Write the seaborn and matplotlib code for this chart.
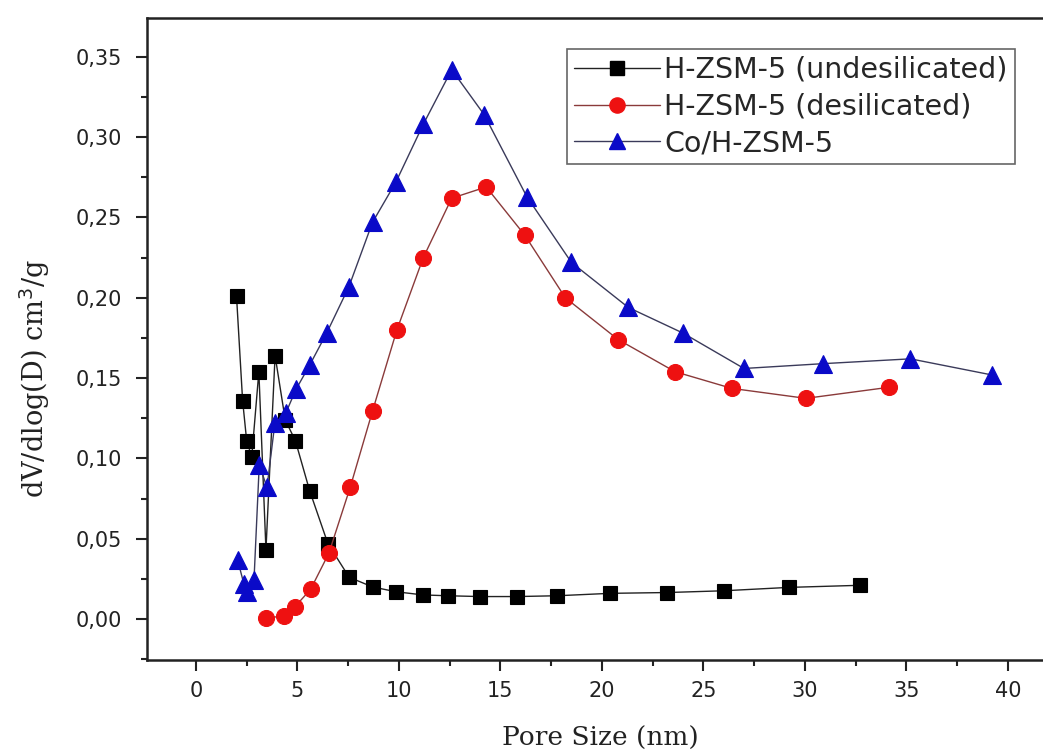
import matplotlib
matplotlib.use("Agg")
import matplotlib.pyplot as plt
from matplotlib.ticker import MultipleLocator, FuncFormatter
from matplotlib.lines import Line2D
import seaborn as sns
import pandas as pd

# Pore size distribution (BJH) for the three samples
undesil_x = [2.0, 2.3, 2.5, 2.75, 3.1, 3.45, 3.9, 4.4, 4.9, 5.6, 6.5, 7.55,
             8.7, 9.85, 11.2, 12.4, 14.0, 15.8, 17.8, 20.4, 23.2, 26.0, 29.2, 32.7]
undesil_y = [0.201, 0.136, 0.111, 0.101, 0.154, 0.043, 0.164, 0.124, 0.111, 0.080, 0.047, 0.026,
             0.020, 0.017, 0.015, 0.0145, 0.014, 0.014, 0.0145, 0.016, 0.0165, 0.0176, 0.0197, 0.021]

desil_x = [3.45, 4.33, 4.88, 5.65, 6.55, 7.6, 8.7, 9.9, 11.2, 12.6, 14.3,
           16.2, 18.2, 20.8, 23.6, 26.4, 30.05, 34.15]
desil_y = [0.0005, 0.002, 0.0077, 0.0185, 0.041, 0.082, 0.1295, 0.180, 0.225, 0.262, 0.269,
           0.239, 0.200, 0.174, 0.154, 0.1436, 0.1374, 0.1443]

co_x = [2.05, 2.36, 2.5, 2.86, 3.12, 3.5, 3.89, 4.42, 4.93, 5.6, 6.44, 7.54,
        8.7, 9.85, 11.2, 12.6, 14.2, 16.3, 18.5, 21.3, 24.0, 27.0, 30.9, 35.2, 39.2]
co_y = [0.037, 0.022, 0.017, 0.024, 0.096, 0.082, 0.122, 0.128, 0.143, 0.158, 0.178, 0.207,
        0.247, 0.272, 0.308, 0.342, 0.314, 0.263, 0.222, 0.194, 0.178, 0.156, 0.159, 0.162, 0.152]

labels = ["H-ZSM-5 (undesilicated)", "H-ZSM-5 (desilicated)", "Co/H-ZSM-5"]

sns.set_theme(style="ticks")
plt.rcParams["font.family"] = ["DejaVu Sans"]

fig = plt.figure(figsize=(10.43, 7.52), dpi=100)
ax = fig.add_axes([147 / 1043, 92 / 752, 896 / 1043, 642 / 752])

series = [
    (undesil_x, undesil_y, "s", "black", "black", "#222222", 10.5),
    (desil_x, desil_y, "o", "#ee1111", "#ee1111", "#8a3a3a", 11.5),
    (co_x, co_y, "^", "#0a0ac8", "#0a0ac8", "#3a3a5a", 12.5),
]
handles = []
for (xs, ys, mk, fc, ec, lc, ms), lab in zip(series, labels):
    df = pd.DataFrame({"x": xs, "y": ys})
    sns.lineplot(data=df, x="x", y="y", sort=False, ax=ax, color=lc, linewidth=1.0,
                 marker=mk, markersize=ms, markerfacecolor=fc, markeredgecolor=ec,
                 markeredgewidth=0.8, estimator=None)
    handles.append(Line2D([0], [0], color=lc, linewidth=1.0, marker=mk,
                          markersize=ms * 0.95, markerfacecolor=fc, markeredgecolor=ec))

ax.set_xlim(-2.41, 41.73)
ax.set_ylim(-0.0255, 0.3742)

ax.xaxis.set_major_locator(MultipleLocator(5))
ax.xaxis.set_minor_locator(MultipleLocator(2.5))
ax.yaxis.set_major_locator(MultipleLocator(0.05))
ax.yaxis.set_minor_locator(MultipleLocator(0.025))
ax.yaxis.set_major_formatter(FuncFormatter(lambda v, p: f"{v:.2f}".replace(".", ",")))
ax.xaxis.set_major_formatter(FuncFormatter(lambda v, p: f"{v:.0f}"))

ax.tick_params(axis="both", which="major", direction="out", length=8, width=1.5,
               labelsize=15, color="#222222", labelcolor="#222222", pad=7)
ax.tick_params(axis="y", which="major", pad=10)
ax.tick_params(axis="both", which="minor", direction="out", length=4.3, width=1.5,
               color="#222222")

for side in ["left", "bottom", "top"]:
    ax.spines[side].set_linewidth(1.8)
    ax.spines[side].set_color("#222222")
ax.spines["right"].set_visible(False)

serif = ["DejaVu Serif"]
ax.set_xlabel("Pore Size (nm)", fontsize=19, family=serif, color="#222222")
ax.set_ylabel("dV/dlog(D) cm$^3$/g", fontsize=19.5, family=serif, color="#222222")
ax.xaxis.set_label_coords(0.506, -0.103)
ax.yaxis.set_label_coords(-0.106, 0.438)

leg = ax.legend(handles, labels, loc="upper left", bbox_to_anchor=(0.469, 0.952),
                borderaxespad=0, fontsize=20.5, frameon=True, fancybox=False,
                edgecolor="#666666", framealpha=1, handlelength=3.0, handletextpad=0.15,
                labelspacing=0.3, borderpad=0.25)
leg.get_frame().set_linewidth(1.2)

fig.savefig("out.png", dpi=100)
